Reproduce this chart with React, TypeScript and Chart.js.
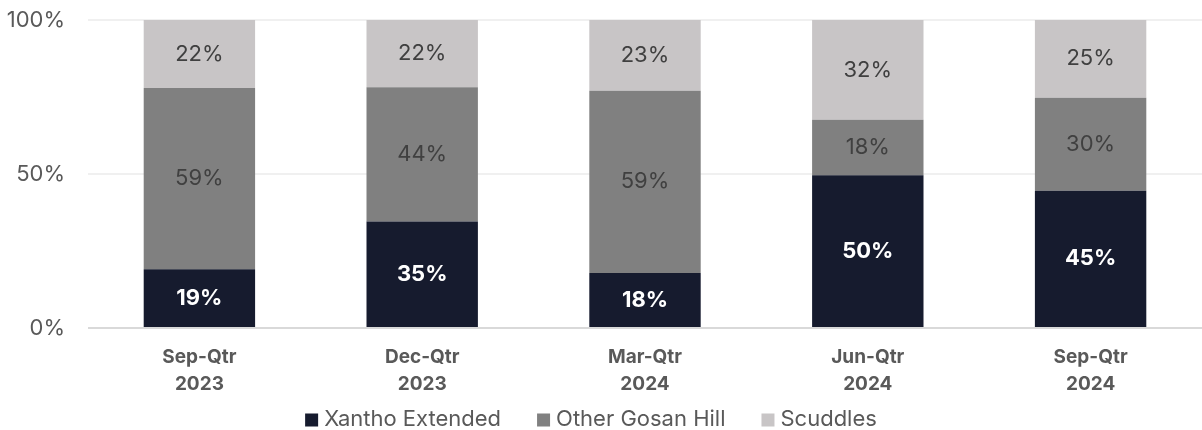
import React, { useEffect, useRef } from "react";
import { Chart, registerables } from "chart.js";

Chart.register(...registerables);

const categories = [["Sep-Qtr", "2023"], ["Dec-Qtr", "2023"], ["Mar-Qtr", "2024"], ["Jun-Qtr", "2024"], ["Sep-Qtr", "2024"]];
const xanthoExtended = [19.1, 34.6, 17.9, 49.6, 44.6];
const otherGosanHill = [58.8, 43.6, 59.1, 18.0, 30.2];
const scuddles = [22.1, 21.8, 23.0, 32.4, 25.2];
const yTicks = [0, 50, 100];

const seriesNames = ["Xantho Extended", "Other Gosan Hill", "Scuddles"];
const seriesColors = ["#161b2e", "#808080", "#c8c5c6"];
const labelColors = ["#ffffff", "#404040", "#404040"];
const FONT = "Inter, 'Open Sans', sans-serif";

const dataLabelPlugin = {
  id: "segLabels",
  afterDatasetsDraw(chart: any) {
    const ctx = chart.ctx;
    chart.data.datasets.forEach((ds: any, i: number) => {
      const meta = chart.getDatasetMeta(i);
      meta.data.forEach((bar: any, j: number) => {
        const v = ds.data[j];
        const yMid = (bar.y + bar.base) / 2;
        ctx.save();
        ctx.fillStyle = labelColors[i];
        ctx.font = (i === 0 ? "bold " : "") + "22px " + FONT;
        ctx.textAlign = "center";
        ctx.textBaseline = "middle";
        ctx.fillText(Math.round(v) + "%", bar.x, yMid);
        ctx.restore();
      });
    });
  },
};

const legendPlugin = {
  id: "customLegend",
  afterDraw(chart: any) {
    const ctx = chart.ctx;
    const box = 13;
    const gapBoxText = 6;
    const gapItems = 36;
    const y = 419;
    ctx.save();
    ctx.font = "22px " + FONT;
    const widths = seriesNames.map((n) => ctx.measureText(n).width);
    const total = widths.reduce((a, w) => a + box + gapBoxText + w, 0) + gapItems * (seriesNames.length - 1);
    let x = chart.width / 2 - total / 2 - 10;
    seriesNames.forEach((n, i) => {
      ctx.fillStyle = seriesColors[i];
      ctx.fillRect(x, y - box / 2 + 1, box, box);
      x += box + gapBoxText;
      ctx.fillStyle = "#595959";
      ctx.textAlign = "left";
      ctx.textBaseline = "middle";
      ctx.fillText(n, x, y);
      x += widths[i] + gapItems;
    });
    ctx.restore();
  },
};

export default function App() {
  const ref = useRef<HTMLCanvasElement>(null);
  useEffect(() => {
    const seriesData = [xanthoExtended, otherGosanHill, scuddles];
    const chart = new Chart(ref.current!, {
      type: "bar",
      data: {
        labels: categories,
        datasets: seriesNames.map((n, i) => ({
          label: n,
          data: seriesData[i],
          backgroundColor: seriesColors[i],
          borderWidth: 0,
          barPercentage: 0.5,
          categoryPercentage: 1,
        })),
      },
      options: {
        animation: false,
        responsive: false,
        layout: { padding: { top: 20, right: 0, left: 0, bottom: 16 } },
        plugins: {
          tooltip: { enabled: false },
          legend: { display: false },
        },
        scales: {
          x: {
            stacked: true,
            grid: { display: false, drawTicks: false },
            border: { display: false },
            ticks: {
              color: "#595959",
              font: { size: 19, weight: "bold", family: FONT, lineHeight: 1.42 },
              padding: 16,
            },
          },
          y: {
            stacked: true,
            min: 0,
            max: 100,
            afterBuildTicks(axis: any) {
              axis.ticks = yTicks.map((v) => ({ value: v }));
            },
            afterFit(axis: any) {
              axis.width = 88;
              axis.paddingTop = 0;
              axis.paddingBottom = 0;
            },
            grid: {
              color: (c: any) => (c.tick && c.tick.value === 0 ? "#d9d9d9" : "#f0f0f0"),
              lineWidth: 2,
              drawTicks: false,
            },
            border: { display: false },
            ticks: {
              color: "#595959",
              font: { size: 22, family: FONT },
              padding: 23,
              callback: (v: any) => v + "%",
            },
          },
        },
      },
      plugins: [dataLabelPlugin, legendPlugin],
    });
    return () => chart.destroy();
  }, []);
  return (
    <div style={{ position: "fixed", left: 0, top: 0, width: 1202, height: 430 }}>
      <canvas ref={ref} width={1202} height={430} />
    </div>
  );
}
